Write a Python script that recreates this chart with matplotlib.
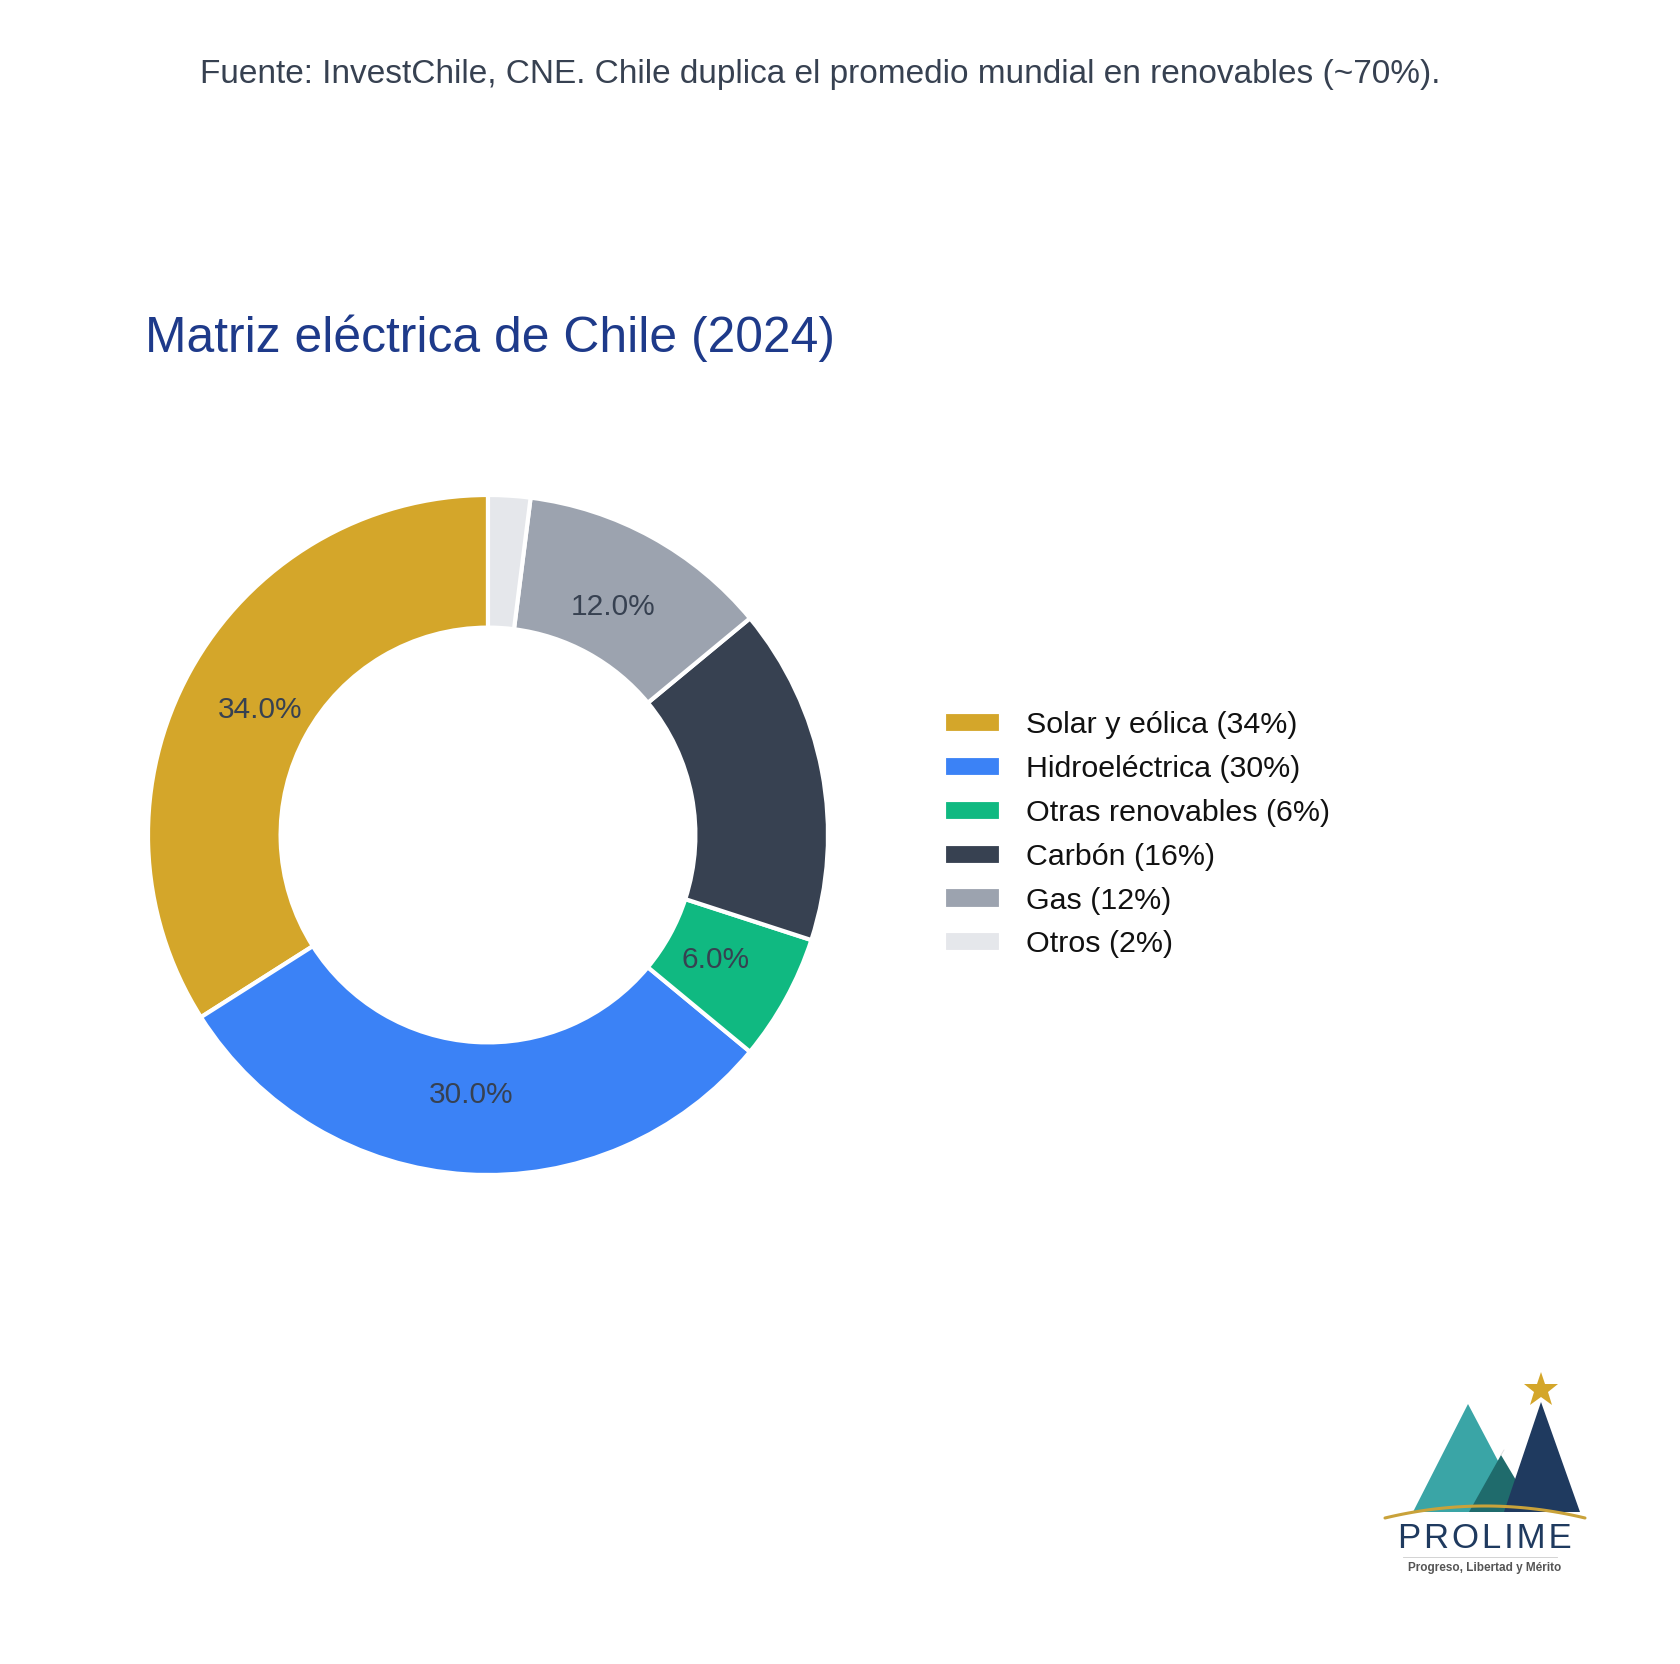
import numpy as np
import matplotlib
matplotlib.use("Agg")
from matplotlib import pyplot as plt
from matplotlib.patches import Polygon

plt.rcParams['font.family'] = ['Liberation Sans', 'DejaVu Sans']

# data
sources = ['Solar y eólica', 'Hidroeléctrica', 'Otras renovables', 'Carbón', 'Gas', 'Otros']
shares = [34, 30, 6, 16, 12, 2]
colors = ['#D4A62A', '#3B82F6', '#10B981', '#374151', '#9CA3AF', '#E5E7EB']
legend_labels = ['%s (%d%%)' % (s, v) for s, v in zip(sources, shares)]

title = 'Matriz eléctrica de Chile (2024)'
note = 'Fuente: InvestChile, CNE. Chile duplica el promedio mundial en renovables (~70%).'

W, H = 1681, 1664
fig = plt.figure(figsize=(W / 100, H / 100), dpi=100)
fig.patch.set_facecolor('white')

# donut axes (center 488,835 px, radius 340 px)
cx, cy, r = 488, 835, 340
ax = fig.add_axes([(cx - r) / W, (H - cy - r) / H, 2 * r / W, 2 * r / H])


def pct_label(p):
    return '%.1f%%' % p if p >= 3 else ''


wedges, texts, autotexts = ax.pie(
    shares, colors=colors, startangle=90, counterclock=True, radius=1,
    autopct=pct_label, pctdistance=0.765,
    wedgeprops=dict(width=0.39, edgecolor='white', linewidth=3),
    textprops=dict(fontsize=21.5, color='#374151'))
ax.set_xlim(-1, 1)
ax.set_ylim(-1, 1)
ax.set_aspect('equal')
ax.axis('off')

leg = fig.legend(wedges, legend_labels, loc='upper left',
                 bbox_to_anchor=(917 / W, 1 - 684 / H), frameon=False,
                 fontsize=21.9, handlelength=1.85, handleheight=0.7,
                 handletextpad=0.85, labelspacing=0.52)
for t in leg.get_texts():
    t.set_color('#111111')

fig.text(145 / W, 1 - 338 / H, title, fontsize=35.8, color='#1E3A8A',
         ha='left', va='center')
fig.text(820 / W, 1 - 75 / H, note, fontsize=24, color='#374151',
         ha='center', va='center')

# logo (overlay axes in pixel coords)
lx = fig.add_axes([0, 0, 1, 1])
lx.set_xlim(0, W)
lx.set_ylim(H, 0)
lx.axis('off')
lx.patch.set_alpha(0)

lx.add_patch(Polygon([(1413, 1512), (1468, 1404), (1525, 1512)], closed=True,
                     color='#3AA5A6', lw=0))
lx.add_patch(Polygon([(1469, 1512), (1501, 1455), (1535, 1512)], closed=True,
                     color='#1F6B6C', lw=0))
lx.plot([1501, 1504], [1455, 1450], color='#dddddd', lw=0.6)
lx.add_patch(Polygon([(1504, 1512), (1541, 1402), (1580, 1512)], closed=True,
                     color='#1F3A5F', lw=0))
lx.plot([1541], [1390], marker='*', markersize=26, color='#D4A62A',
        markeredgewidth=0)
ts = np.linspace(0, 1, 60)
arc_x = (1 - ts) ** 2 * 1385 + 2 * ts * (1 - ts) * 1485 + ts ** 2 * 1585
arc_y = (1 - ts) ** 2 * 1518 + 2 * ts * (1 - ts) * 1494 + ts ** 2 * 1518
lx.plot(arc_x, arc_y, color='#C9A23A', lw=2.2, solid_capstyle='round')
lx.text(1485, 1538, '\u200a'.join('PROLIME'), fontsize=25,
        color='#1F3A5F', ha='center', va='center', fontweight='medium')
lx.plot([1403, 1557], [1557, 1557], color='#cccccc', lw=0.6)
lx.text(1485, 1568, 'Progreso, Libertad y Mérito', fontsize=8.5,
        color='#555555', ha='center', va='center', fontweight='bold')

fig.savefig('out.png', dpi=100, facecolor='white')
